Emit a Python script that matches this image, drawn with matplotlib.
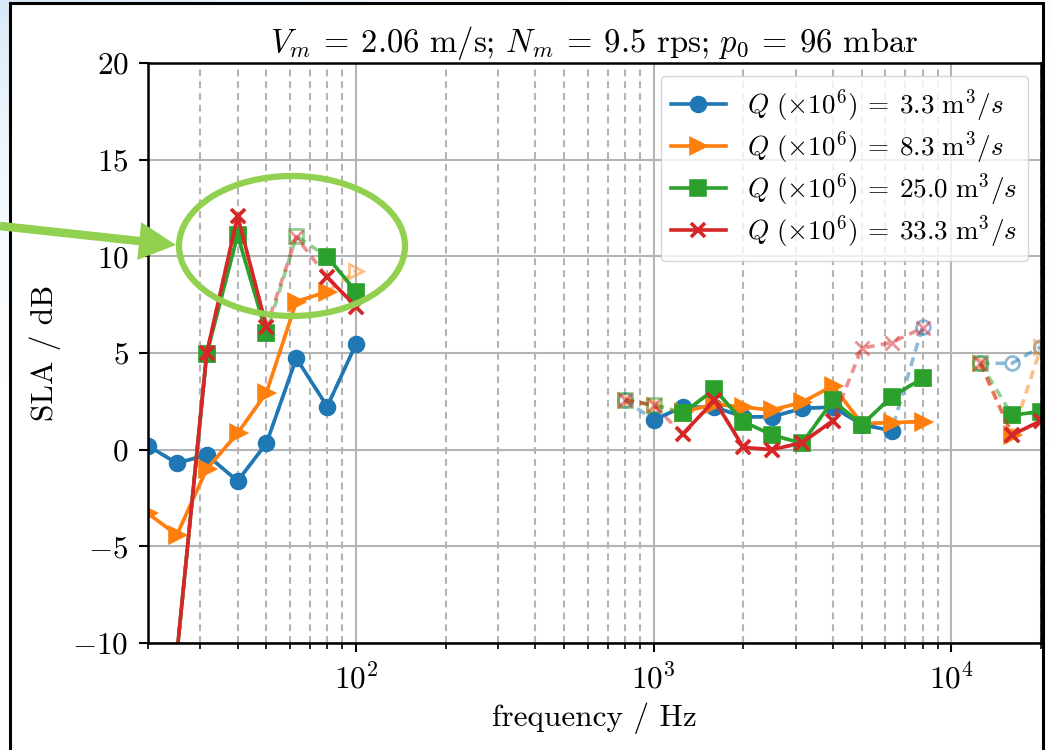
import numpy as np
import matplotlib
matplotlib.use("Agg")
import matplotlib.pyplot as plt
from matplotlib.patches import Ellipse, FancyArrow, Rectangle
from matplotlib.ticker import LogLocator, NullFormatter, MultipleLocator

FS = 22.5
FS_TITLE = 23.5
FS_LEG = 19.5

plt.rcParams.update({
    "font.family": "serif",
    "font.serif": ["cmr10"],
    "mathtext.fontset": "cm",
    "axes.formatter.use_mathtext": True,
    "axes.unicode_minus": True,
    "font.size": FS,
    "lines.scale_dashes": False,
})

nan = float("nan")

# one-third octave band centre frequencies / Hz
freq = [20, 25, 31.5, 40, 50, 63, 80, 100,
        125, 160, 200, 250, 315, 400, 500, 630,
        800, 1000, 1250, 1600, 2000, 2500, 3150, 4000, 5000, 6300, 8000,
        10000, 12500, 16000, 20000]

# SLA / dB per flow rate
sla_q3_3 = [0.2, -0.7, -0.27, -1.62, 0.33, 4.73, 2.23, 5.47,
            nan, nan, nan, nan, nan, nan, nan, nan,
            2.57, 1.54, 2.2, 2.2, 1.7, 1.7, 2.14, 2.2, 1.3, 0.98, 6.36,
            nan, 4.47, 4.47, 5.33]
sla_q8_3 = [-3.3, -4.41, -1.0, 0.85, 2.95, 7.66, 8.17, 9.26,
            nan, nan, nan, nan, nan, nan, nan, nan,
            2.57, 2.3, 1.95, 2.35, 2.2, 2.05, 2.45, 3.3, 1.35, 1.4, 1.45,
            nan, 4.47, 0.76, 5.3]
sla_q25_0 = [-14.0, -10.6, 4.95, 11.1, 6.02, 11.05, 9.98, 8.17,
             nan, nan, nan, nan, nan, nan, nan, nan,
             2.57, 2.3, 1.88, 3.12, 1.45, 0.76, 0.33, 2.55, 1.28, 2.74, 3.69,
             nan, 4.47, 1.79, 1.97]
sla_q33_3 = [-14.0, -10.6, 5.0, 12.08, 6.36, 11.0, 8.92, 7.4,
             nan, nan, nan, nan, nan, nan, nan, nan,
             2.57, 2.3, 0.8, 2.55, 0.12, 0.0, 0.36, 1.5, 5.25, 5.54, 6.3,
             nan, 4.47, 0.76, 1.5]

# 1 = reliable band, 0 = band below the background-noise criterion
ok_q3_3 = [1, 1, 1, 1, 1, 1, 1, 1,
           0, 0, 0, 0, 0, 0, 0, 0,
           0, 1, 1, 1, 1, 1, 1, 1, 1, 1, 0,
           0, 0, 0, 0]
ok_q8_3 = [1, 1, 1, 1, 1, 1, 1, 0,
           0, 0, 0, 0, 0, 0, 0, 0,
           0, 0, 1, 1, 1, 1, 1, 1, 1, 1, 1,
           0, 0, 1, 0]
ok_q25_0 = [1, 1, 1, 1, 1, 0, 1, 1,
            0, 0, 0, 0, 0, 0, 0, 0,
            0, 0, 1, 1, 1, 1, 1, 1, 1, 1, 1,
            0, 0, 1, 1]
ok_q33_3 = [1, 1, 1, 1, 1, 0, 1, 1,
            0, 0, 0, 0, 0, 0, 0, 0,
            0, 0, 1, 1, 1, 1, 1, 1, 0, 0, 0,
            0, 0, 1, 1]

flow_labels = ["3.3", "8.3", "25.0", "33.3"]
colors = ["#1f77b4", "#ff7f0e", "#2ca02c", "#d62728"]
markers = ["o", ">", "s", "x"]

W, H = 1052, 750
fig = plt.figure(figsize=(W / 100, H / 100), dpi=100)

# light blue window background around the frame, top-left corner
yy, xx = np.mgrid[0:H, 0:W]
fade = np.clip(np.exp(-xx / 380.0) * np.exp(-yy / 160.0), 0, 1)
inside = (xx >= 10) & (yy >= 3) & (xx <= 1043)
bg = np.ones((H, W, 4))
bg[..., 0] = 0.84
bg[..., 1] = 0.91
bg[..., 2] = 0.97
bg[..., 3] = np.where(inside, 0.0, fade)
fig.figimage(bg, 0, 0, origin="upper", zorder=0)

ax = fig.add_axes([148 / W, 1 - 643 / H, (1041 - 148) / W, (643 - 63) / H])
ax.set_xscale("log")

for vals, ok, c, m, q in zip([sla_q3_3, sla_q8_3, sla_q25_0, sla_q33_3],
                             [ok_q3_3, ok_q8_3, ok_q25_0, ok_q33_3],
                             colors, markers, flow_labels):
    y = np.array(vals, dtype=float)
    good = np.array(ok, dtype=bool)
    ax.plot(freq, y, ls=(0, (6.5, 4.5)), color=c, marker=m, mfc="none",
            alpha=0.5, lw=2.6, ms=10, mew=2.0)
    ax.plot(freq, np.where(good, y, np.nan), ls="-", color=c, marker=m,
            lw=2.6, ms=10, mew=2.6,
            label=r"$Q\ (\times10^6)\:=\:%s\ \mathrm{m}^3/s$" % q)

ax.set_xlim(20, 20000)
ax.set_ylim(-10, 20)
ax.yaxis.set_major_locator(MultipleLocator(5))
ax.xaxis.set_major_locator(LogLocator(base=10))
ax.xaxis.set_minor_locator(LogLocator(base=10, subs=np.arange(2, 10)))
ax.xaxis.set_minor_formatter(NullFormatter())

ax.grid(True, which="major", color="#b4b4b4", lw=1.5, ls="-")
ax.grid(True, which="minor", axis="x", color="#b4b4b4", lw=1.5,
        ls=(0, (5, 3.5)))
ax.set_axisbelow(True)

for s in ax.spines.values():
    s.set_linewidth(1.8)
ax.tick_params(which="major", length=6.5, width=1.5, pad=7.5, labelsize=FS)
ax.tick_params(which="minor", length=4, width=1.2)

ax.set_xlabel("frequency / Hz", fontsize=FS, labelpad=6)
ax.set_ylabel("SLA / dB", fontsize=FS, labelpad=8)
ax.set_title(r"$V_m\:=\:2.06$ m/s; $N_m\:=\:9.5$ rps; $p_0\:=\:96$ mbar",
             fontsize=FS_TITLE, pad=8)

ax.legend(loc="upper right", fontsize=FS_LEG, handlelength=2.0,
          borderaxespad=0.48, labelspacing=0.2, handletextpad=0.8)

# outer frame
fig.patches.append(Rectangle((10 / W, -0.05), (1043 - 10) / W, (H - 3) / H + 0.05,
                             transform=fig.transFigure, fill=False,
                             ec="black", lw=2.2, zorder=5))

# highlight of the low-frequency peaks
hl = "#92D050"
fig.patches.append(Ellipse((2.92, (H - 246) / 100), 2.26, 1.40,
                           transform=fig.dpi_scale_trans, fill=False,
                           ec=hl, lw=4.5, zorder=6))
fig.patches.append(FancyArrow(0.0, (H - 226) / 100, 1.76, -0.19,
                              width=0.085, head_width=0.38, head_length=0.37,
                              length_includes_head=True,
                              transform=fig.dpi_scale_trans,
                              color=hl, lw=0, zorder=7))

fig.savefig("out.png", dpi=100)
